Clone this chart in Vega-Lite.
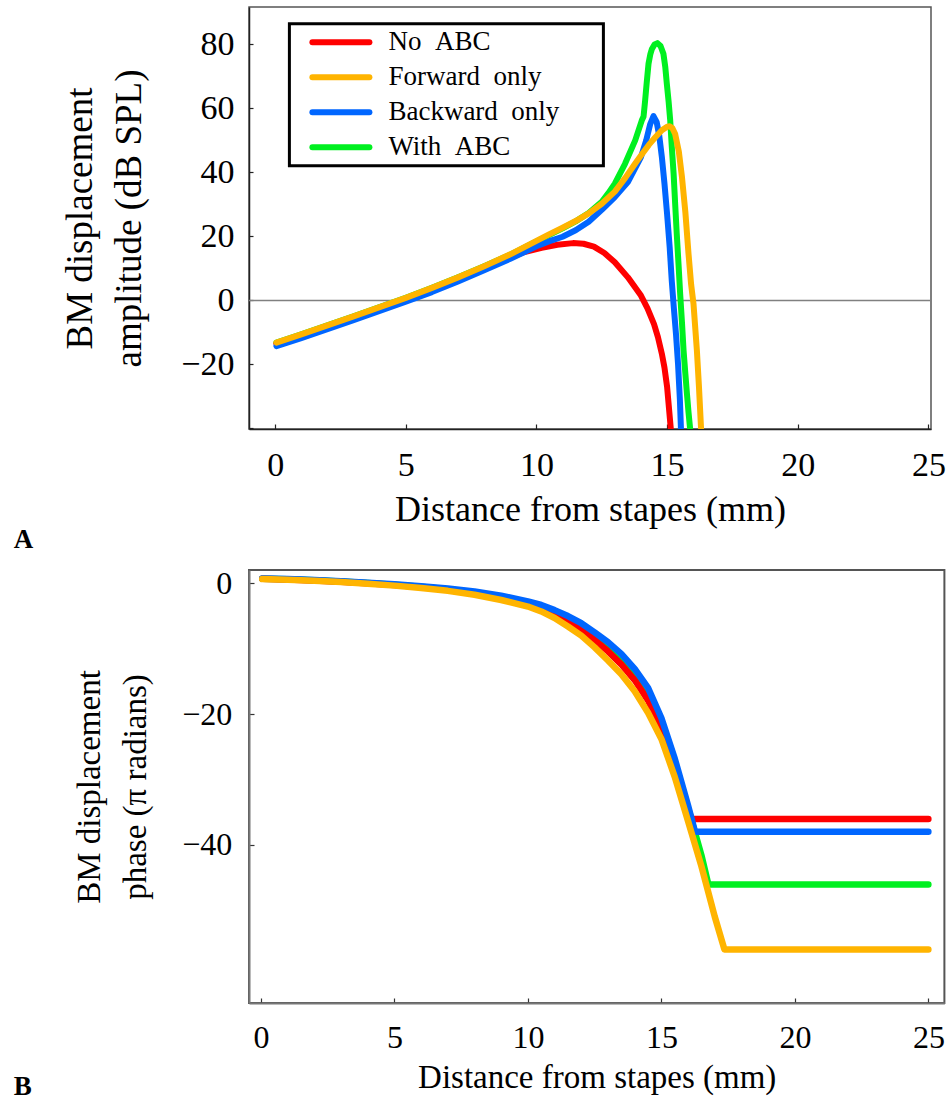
{
  "$schema": "https://vega.github.io/schema/vega-lite/v6.json",
  "padding": {"left": 12, "top": 6, "right": 0, "bottom": 0},
  "autosize": {"type": "pad"},
  "background": "white",
  "config": {
    "font": "Liberation Serif",
    "axis": {"labelFont": "Liberation Serif", "titleFont": "Liberation Serif", "titleFontWeight": "normal", "labelColor": "#000", "titleColor": "#000", "grid": false, "labelFlush": false, "labelOverlap": false},
    "legend": {"labelFont": "Liberation Serif", "labelColor": "#000"}
  },
  "spacing": 12,
  "columns": 1,
  "datasets": {
    "amp": [
      {"s": "With ABC", "x": 0.05, "y": -13.2}, {"s": "With ABC", "x": 1, "y": -10.6}, {"s": "With ABC", "x": 2, "y": -7.8}, {"s": "With ABC", "x": 3, "y": -5.0}, {"s": "With ABC", "x": 4, "y": -2.1}, {"s": "With ABC", "x": 5, "y": 0.8}, {"s": "With ABC", "x": 6, "y": 3.9}, {"s": "With ABC", "x": 7, "y": 7.2}, {"s": "With ABC", "x": 8, "y": 10.7}, {"s": "With ABC", "x": 9, "y": 14.3}, {"s": "With ABC", "x": 10, "y": 18.4}, {"s": "With ABC", "x": 10.5, "y": 20.5}, {"s": "With ABC", "x": 11, "y": 22.5}, {"s": "With ABC", "x": 11.5, "y": 24.7}, {"s": "With ABC", "x": 12, "y": 27.3}, {"s": "With ABC", "x": 12.5, "y": 30.8}, {"s": "With ABC", "x": 12.76, "y": 33.6}, {"s": "With ABC", "x": 13.0, "y": 36.5}, {"s": "With ABC", "x": 13.39, "y": 42.7}, {"s": "With ABC", "x": 13.78, "y": 50.0}, {"s": "With ABC", "x": 14.03, "y": 56.2}, {"s": "With ABC", "x": 14.1, "y": 57.5}, {"s": "With ABC", "x": 14.16, "y": 62.5}, {"s": "With ABC", "x": 14.22, "y": 68.0}, {"s": "With ABC", "x": 14.29, "y": 74.0}, {"s": "With ABC", "x": 14.36, "y": 77.0}, {"s": "With ABC", "x": 14.42, "y": 78.6}, {"s": "With ABC", "x": 14.52, "y": 80.0}, {"s": "With ABC", "x": 14.63, "y": 80.4}, {"s": "With ABC", "x": 14.75, "y": 79.5}, {"s": "With ABC", "x": 14.86, "y": 77.1}, {"s": "With ABC", "x": 14.93, "y": 73.0}, {"s": "With ABC", "x": 14.99, "y": 67.7}, {"s": "With ABC", "x": 15.06, "y": 62.0}, {"s": "With ABC", "x": 15.12, "y": 56.2}, {"s": "With ABC", "x": 15.18, "y": 48.0}, {"s": "With ABC", "x": 15.25, "y": 39.6}, {"s": "With ABC", "x": 15.31, "y": 30.0}, {"s": "With ABC", "x": 15.37, "y": 20.8}, {"s": "With ABC", "x": 15.44, "y": 11.0}, {"s": "With ABC", "x": 15.5, "y": 2.1}, {"s": "With ABC", "x": 15.57, "y": -7.0}, {"s": "With ABC", "x": 15.63, "y": -15.6}, {"s": "With ABC", "x": 15.7, "y": -23.0}, {"s": "With ABC", "x": 15.76, "y": -29.2}, {"s": "With ABC", "x": 15.82, "y": -35.0}, {"s": "With ABC", "x": 15.88, "y": -40.0}, {"s": "With ABC", "x": 15.95, "y": -46.0},
      {"s": "No ABC", "x": 0.05, "y": -13.6}, {"s": "No ABC", "x": 1, "y": -11.0}, {"s": "No ABC", "x": 2, "y": -8.2}, {"s": "No ABC", "x": 3, "y": -5.4}, {"s": "No ABC", "x": 4, "y": -2.5}, {"s": "No ABC", "x": 5, "y": 0.4}, {"s": "No ABC", "x": 6, "y": 3.4}, {"s": "No ABC", "x": 7, "y": 6.7}, {"s": "No ABC", "x": 8, "y": 10.1}, {"s": "No ABC", "x": 9, "y": 13.4}, {"s": "No ABC", "x": 9.5, "y": 15.0}, {"s": "No ABC", "x": 10.2, "y": 16.4}, {"s": "No ABC", "x": 10.8, "y": 17.4}, {"s": "No ABC", "x": 11.4, "y": 17.9}, {"s": "No ABC", "x": 11.8, "y": 17.7}, {"s": "No ABC", "x": 12.2, "y": 16.8}, {"s": "No ABC", "x": 12.6, "y": 14.8}, {"s": "No ABC", "x": 13.0, "y": 11.9}, {"s": "No ABC", "x": 13.5, "y": 7.2}, {"s": "No ABC", "x": 14.0, "y": 1.5}, {"s": "No ABC", "x": 14.25, "y": -2.5}, {"s": "No ABC", "x": 14.5, "y": -7.4}, {"s": "No ABC", "x": 14.65, "y": -11.5}, {"s": "No ABC", "x": 14.8, "y": -16.7}, {"s": "No ABC", "x": 14.9, "y": -21.0}, {"s": "No ABC", "x": 15.0, "y": -27.0}, {"s": "No ABC", "x": 15.14, "y": -40.0}, {"s": "No ABC", "x": 15.22, "y": -48.0},
      {"s": "Backward only", "x": 0.05, "y": -14.3}, {"s": "Backward only", "x": 1, "y": -11.8}, {"s": "Backward only", "x": 2, "y": -9.0}, {"s": "Backward only", "x": 3, "y": -6.2}, {"s": "Backward only", "x": 4, "y": -3.3}, {"s": "Backward only", "x": 5, "y": -0.4}, {"s": "Backward only", "x": 6, "y": 2.6}, {"s": "Backward only", "x": 7, "y": 5.9}, {"s": "Backward only", "x": 8, "y": 9.4}, {"s": "Backward only", "x": 9, "y": 13.0}, {"s": "Backward only", "x": 10, "y": 16.9}, {"s": "Backward only", "x": 10.5, "y": 18.5}, {"s": "Backward only", "x": 11, "y": 19.9}, {"s": "Backward only", "x": 11.5, "y": 21.9}, {"s": "Backward only", "x": 12, "y": 24.6}, {"s": "Backward only", "x": 12.5, "y": 28.3}, {"s": "Backward only", "x": 13, "y": 32.3}, {"s": "Backward only", "x": 13.5, "y": 37.0}, {"s": "Backward only", "x": 14.0, "y": 44.8}, {"s": "Backward only", "x": 14.2, "y": 50.0}, {"s": "Backward only", "x": 14.35, "y": 55.0}, {"s": "Backward only", "x": 14.48, "y": 57.6}, {"s": "Backward only", "x": 14.6, "y": 55.8}, {"s": "Backward only", "x": 14.7, "y": 51.5}, {"s": "Backward only", "x": 14.8, "y": 44.8}, {"s": "Backward only", "x": 14.9, "y": 36.5}, {"s": "Backward only", "x": 15.0, "y": 27.0}, {"s": "Backward only", "x": 15.1, "y": 16.5}, {"s": "Backward only", "x": 15.18, "y": 6.0}, {"s": "Backward only", "x": 15.26, "y": -2.5}, {"s": "Backward only", "x": 15.34, "y": -10.4}, {"s": "Backward only", "x": 15.42, "y": -20.0}, {"s": "Backward only", "x": 15.49, "y": -31.0}, {"s": "Backward only", "x": 15.53, "y": -40.0}, {"s": "Backward only", "x": 15.58, "y": -48.0},
      {"s": "Forward only", "x": 0.05, "y": -13.2}, {"s": "Forward only", "x": 1, "y": -10.6}, {"s": "Forward only", "x": 2, "y": -7.8}, {"s": "Forward only", "x": 3, "y": -5.0}, {"s": "Forward only", "x": 4, "y": -2.1}, {"s": "Forward only", "x": 5, "y": 0.8}, {"s": "Forward only", "x": 6, "y": 3.9}, {"s": "Forward only", "x": 7, "y": 7.2}, {"s": "Forward only", "x": 8, "y": 10.7}, {"s": "Forward only", "x": 9, "y": 14.4}, {"s": "Forward only", "x": 10, "y": 18.6}, {"s": "Forward only", "x": 10.5, "y": 20.7}, {"s": "Forward only", "x": 11, "y": 22.7}, {"s": "Forward only", "x": 11.5, "y": 24.8}, {"s": "Forward only", "x": 12, "y": 27.2}, {"s": "Forward only", "x": 12.5, "y": 30.2}, {"s": "Forward only", "x": 13, "y": 34.0}, {"s": "Forward only", "x": 13.4, "y": 38.3}, {"s": "Forward only", "x": 13.8, "y": 43.0}, {"s": "Forward only", "x": 14.05, "y": 45.8}, {"s": "Forward only", "x": 14.3, "y": 48.6}, {"s": "Forward only", "x": 14.55, "y": 51.0}, {"s": "Forward only", "x": 14.8, "y": 53.2}, {"s": "Forward only", "x": 15.0, "y": 54.3}, {"s": "Forward only", "x": 15.1, "y": 54.4}, {"s": "Forward only", "x": 15.2, "y": 53.9}, {"s": "Forward only", "x": 15.31, "y": 52.0}, {"s": "Forward only", "x": 15.45, "y": 46.5}, {"s": "Forward only", "x": 15.57, "y": 38.5}, {"s": "Forward only", "x": 15.7, "y": 27.5}, {"s": "Forward only", "x": 15.82, "y": 14.6}, {"s": "Forward only", "x": 15.92, "y": 5.0}, {"s": "Forward only", "x": 16.01, "y": -1.0}, {"s": "Forward only", "x": 16.14, "y": -15.6}, {"s": "Forward only", "x": 16.22, "y": -27.0}, {"s": "Forward only", "x": 16.3, "y": -40.0}, {"s": "Forward only", "x": 16.36, "y": -48.0}
    ],
    "phase": [
      {"s": "With ABC", "x": 0.05, "y": 0.72}, {"s": "With ABC", "x": 1, "y": 0.62}, {"s": "With ABC", "x": 2, "y": 0.47}, {"s": "With ABC", "x": 3, "y": 0.29}, {"s": "With ABC", "x": 4, "y": 0.06}, {"s": "With ABC", "x": 5, "y": -0.2}, {"s": "With ABC", "x": 6, "y": -0.52}, {"s": "With ABC", "x": 7, "y": -0.9}, {"s": "With ABC", "x": 8, "y": -1.38}, {"s": "With ABC", "x": 9, "y": -2.08}, {"s": "With ABC", "x": 10, "y": -2.95}, {"s": "With ABC", "x": 10.5, "y": -3.55}, {"s": "With ABC", "x": 11, "y": -4.4}, {"s": "With ABC", "x": 11.5, "y": -5.4}, {"s": "With ABC", "x": 12, "y": -6.6}, {"s": "With ABC", "x": 12.5, "y": -8.1}, {"s": "With ABC", "x": 13, "y": -9.7}, {"s": "With ABC", "x": 13.5, "y": -11.6}, {"s": "With ABC", "x": 14, "y": -14.0}, {"s": "With ABC", "x": 14.5, "y": -17.0}, {"s": "With ABC", "x": 15, "y": -21.5}, {"s": "With ABC", "x": 15.5, "y": -27.7}, {"s": "With ABC", "x": 16, "y": -34.5}, {"s": "With ABC", "x": 16.3, "y": -38.7}, {"s": "With ABC", "x": 16.5, "y": -41.6}, {"s": "With ABC", "x": 16.76, "y": -46.08}, {"s": "With ABC", "x": 25, "y": -46.08},
      {"s": "No ABC", "x": 0.05, "y": 0.7}, {"s": "No ABC", "x": 1, "y": 0.6}, {"s": "No ABC", "x": 2, "y": 0.45}, {"s": "No ABC", "x": 3, "y": 0.26}, {"s": "No ABC", "x": 4, "y": 0.03}, {"s": "No ABC", "x": 5, "y": -0.25}, {"s": "No ABC", "x": 6, "y": -0.58}, {"s": "No ABC", "x": 7, "y": -1.0}, {"s": "No ABC", "x": 8, "y": -1.5}, {"s": "No ABC", "x": 9, "y": -2.25}, {"s": "No ABC", "x": 10, "y": -3.15}, {"s": "No ABC", "x": 10.5, "y": -3.8}, {"s": "No ABC", "x": 11, "y": -4.7}, {"s": "No ABC", "x": 11.5, "y": -5.8}, {"s": "No ABC", "x": 12, "y": -7.05}, {"s": "No ABC", "x": 12.5, "y": -8.65}, {"s": "No ABC", "x": 13, "y": -10.4}, {"s": "No ABC", "x": 13.5, "y": -12.4}, {"s": "No ABC", "x": 14, "y": -14.8}, {"s": "No ABC", "x": 14.5, "y": -17.9}, {"s": "No ABC", "x": 15, "y": -22.2}, {"s": "No ABC", "x": 15.5, "y": -28.2}, {"s": "No ABC", "x": 16, "y": -34.5}, {"s": "No ABC", "x": 16.13, "y": -36.07}, {"s": "No ABC", "x": 25, "y": -36.07},
      {"s": "Backward only", "x": 0.05, "y": 0.75}, {"s": "Backward only", "x": 1, "y": 0.65}, {"s": "Backward only", "x": 2, "y": 0.5}, {"s": "Backward only", "x": 3, "y": 0.32}, {"s": "Backward only", "x": 4, "y": 0.1}, {"s": "Backward only", "x": 5, "y": -0.15}, {"s": "Backward only", "x": 6, "y": -0.45}, {"s": "Backward only", "x": 7, "y": -0.8}, {"s": "Backward only", "x": 8, "y": -1.25}, {"s": "Backward only", "x": 9, "y": -1.9}, {"s": "Backward only", "x": 10, "y": -2.75}, {"s": "Backward only", "x": 10.5, "y": -3.3}, {"s": "Backward only", "x": 11, "y": -4.1}, {"s": "Backward only", "x": 11.5, "y": -5.0}, {"s": "Backward only", "x": 12, "y": -6.1}, {"s": "Backward only", "x": 12.5, "y": -7.5}, {"s": "Backward only", "x": 13, "y": -9.0}, {"s": "Backward only", "x": 13.5, "y": -10.8}, {"s": "Backward only", "x": 14, "y": -13.1}, {"s": "Backward only", "x": 14.5, "y": -16.0}, {"s": "Backward only", "x": 15, "y": -20.6}, {"s": "Backward only", "x": 15.5, "y": -26.8}, {"s": "Backward only", "x": 16, "y": -34.0}, {"s": "Backward only", "x": 16.26, "y": -38.0}, {"s": "Backward only", "x": 25, "y": -38.0},
      {"s": "Forward only", "x": 0.05, "y": 0.65}, {"s": "Forward only", "x": 1, "y": 0.55}, {"s": "Forward only", "x": 2, "y": 0.4}, {"s": "Forward only", "x": 3, "y": 0.2}, {"s": "Forward only", "x": 4, "y": -0.05}, {"s": "Forward only", "x": 5, "y": -0.35}, {"s": "Forward only", "x": 6, "y": -0.7}, {"s": "Forward only", "x": 7, "y": -1.15}, {"s": "Forward only", "x": 8, "y": -1.75}, {"s": "Forward only", "x": 9, "y": -2.55}, {"s": "Forward only", "x": 10, "y": -3.55}, {"s": "Forward only", "x": 10.5, "y": -4.3}, {"s": "Forward only", "x": 11, "y": -5.3}, {"s": "Forward only", "x": 11.5, "y": -6.6}, {"s": "Forward only", "x": 12, "y": -8.0}, {"s": "Forward only", "x": 12.5, "y": -9.8}, {"s": "Forward only", "x": 13, "y": -11.8}, {"s": "Forward only", "x": 13.5, "y": -13.9}, {"s": "Forward only", "x": 14, "y": -16.5}, {"s": "Forward only", "x": 14.5, "y": -19.8}, {"s": "Forward only", "x": 15, "y": -23.8}, {"s": "Forward only", "x": 15.5, "y": -29.6}, {"s": "Forward only", "x": 16, "y": -36.4}, {"s": "Forward only", "x": 16.5, "y": -43.3}, {"s": "Forward only", "x": 17, "y": -51.0}, {"s": "Forward only", "x": 17.36, "y": -56.0}, {"s": "Forward only", "x": 25, "y": -56.0}
    ]
  },
  "concat": [
    {
      "width": 682,
      "height": 422,
      "view": {"stroke": "#555", "strokeWidth": 1.5},
      "title": {"text": "A", "orient": "bottom", "anchor": "start", "frame": "group", "font": "Liberation Serif", "fontSize": 27, "fontWeight": "bold", "color": "#000", "dx": -235.3, "offset": 0},
      "layer": [
        {
          "data": {"values": [{"z": 0}]},
          "mark": {"type": "rule", "color": "#808080", "strokeWidth": 1.5},
          "encoding": {"y": {"field": "z", "type": "quantitative"}}
        },
        {
          "data": {"name": "amp"},
          "mark": {"type": "line", "strokeWidth": 6, "strokeCap": "round", "strokeJoin": "round", "clip": true},
          "encoding": {
            "x": {"field": "x", "type": "quantitative", "scale": {"domain": [-1, 25.1], "nice": false, "zero": false},
              "axis": {"title": "Distance from stapes (mm)", "values": [0, 5, 10, 15, 20, 25], "tickSize": -5, "labelPadding": 24, "labelFontSize": 34, "titleFontSize": 36, "titlePadding": 10, "domainColor": "#222", "domainWidth": 1.5, "tickColor": "#222", "tickWidth": 1.2}},
            "y": {"field": "y", "type": "quantitative", "scale": {"domain": [-40.2, 91.7], "nice": false, "zero": false},
              "axis": {"title": ["BM displacement", "amplitude (dB SPL)"], "values": [-40, -35, -30, -25, -20, -15, -10, -5, 0, 5, 10, 15, 20, 25, 30, 35, 40, 45, 50, 55, 60, 65, 70, 75, 80, 85, 90], "labelExpr": "datum.value % 20 == 0 && datum.value >= -20 && datum.value <= 80 ? datum.label : ''", "tickSize": -4, "labelPadding": 19, "labelFontSize": 34, "titleFontSize": 37, "titleLineHeight": 49, "titlePadding": 32, "domainColor": "#222", "domainWidth": 1.5, "tickColor": "#222", "tickWidth": 1.2}},
            "color": {"field": "s", "type": "nominal",
              "scale": {"domain": ["No ABC", "Forward only", "Backward only", "With ABC"], "range": ["#ff0000", "#ffb400", "#0066ff", "#00f020"]},
              "legend": {"title": null, "orient": "none", "legendX": 40.4, "legendY": 16.8, "symbolType": "M-2.85,0H2.85", "symbolSize": 400, "symbolStrokeWidth": 6, "symbolOffset": 33, "labelFontSize": 27, "labelOffset": 34, "labelLimit": 600, "rowPadding": 7, "padding": 5, "strokeColor": "#000", "fillColor": "white",
                "labelExpr": "replace(datum.label, ' ', '\u00a0\u00a0') + '\u00a0\u00a0\u2009\u2800'",
                "encode": {"symbols": {"update": {"strokeCap": {"value": "round"}}}, "legend": {"update": {"strokeWidth": {"value": 3}}}}}}
          }
        }
      ]
    },
    {
      "width": 695.4,
      "height": 433,
      "view": {"stroke": "#555", "strokeWidth": 2},
      "title": {"text": "B", "orient": "bottom", "anchor": "start", "frame": "group", "font": "Liberation Serif", "fontSize": 27, "fontWeight": "bold", "color": "#000", "dx": -235.3, "dy": -20, "offset": 0},
      "data": {"name": "phase"},
      "mark": {"type": "line", "strokeWidth": 6.5, "strokeCap": "round", "strokeJoin": "round", "clip": true},
      "encoding": {
        "x": {"field": "x", "type": "quantitative", "scale": {"domain": [-0.446, 25.6], "nice": false, "zero": false},
          "axis": {"title": "Distance from stapes (mm)", "values": [0, 5, 10, 15, 20, 25], "tickSize": -5, "labelPadding": 24, "labelFontSize": 32, "titleFontSize": 33, "titlePadding": 8, "domainColor": "#777", "domainWidth": 2, "tickColor": "#333", "tickWidth": 1.2}},
        "y": {"field": "y", "type": "quantitative", "scale": {"domain": [-64.2, 2.04], "nice": false, "zero": false},
          "axis": {"title": ["BM displacement", "phase (π radians)"], "values": [0, -20, -40], "tickSize": -5, "labelPadding": 22.3, "labelFontSize": 32, "titleFontSize": 33, "titleLineHeight": 46, "titlePadding": 29, "domainColor": "#777", "domainWidth": 2, "tickColor": "#333", "tickWidth": 1.2}},
        "color": {"field": "s", "type": "nominal",
          "scale": {"domain": ["No ABC", "Forward only", "Backward only", "With ABC"], "range": ["#ff0000", "#ffb400", "#0066ff", "#00f020"]},
          "legend": null}
      }
    }
  ],
  "resolve": {"scale": {"color": "independent"}, "legend": {"color": "independent"}}
}
